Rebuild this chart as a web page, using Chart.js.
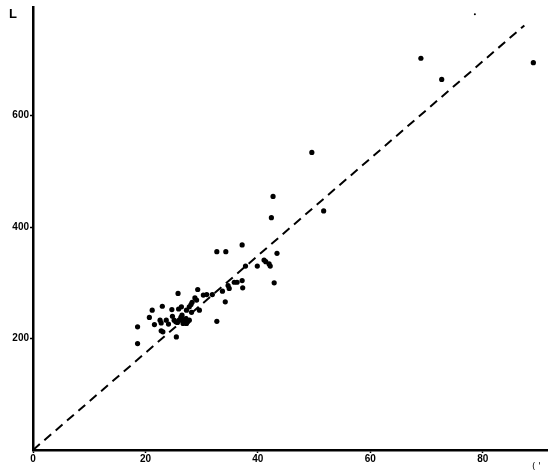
<!DOCTYPE html>
<html>
<head>
<meta charset="utf-8">
<script src="https://cdn.jsdelivr.net/npm/chart.js@4"></script>
<style>
body{margin:0;background:#fff;}
#wrap{width:550px;height:476px;}
</style>
</head>
<body>
<div id="wrap"><canvas id="c" width="550" height="476"></canvas></div>
<script>
// ===== data =====
let xVals = [69.0,72.7,89.0,78.6,49.6,51.7,42.7,42.4,37.2,32.7,34.3,43.4,37.8,39.9,
41.1,41.4,42.0,42.2,42.9,37.2,37.3,35.8,36.3,34.7,34.9,33.7,34.2,32.7,31.9,30.9,
29.3,30.3,28.8,29.1,28.3,28.1,29.6,27.3,27.8,28.2,25.8,25.9,26.4,
25.4,26.0,26.3,26.6,26.9,27.2,27.5,27.8,26.5,25.7,26.7,27.3,
24.7,24.8,25.1,24.1,23.7,23.0,22.6,22.8,22.8,23.1,25.5,21.6,21.2,20.7,18.6,18.6]
let yVals = [703,665,695,782,534,429,455,417,368,356,356,353,330,330,
341,338,334,330,300,304,291,301,301,295,290,285,266,231,279,279,
288,278,273,269,265,261,251,251,257,247,281,253,257,
230,233,238,234,230,236,230,233,242,229,227,227,
252,240,233,226,233,258,233,228,214,212,203,225,251,238,221,191]

let fitX = [0,87.4]
let fitY = [0,762]

let xTicks = [0,20,40,60,80]
let yTicks = [200,400,600]

let xMax = 91.5
let yMax = 795

// ===== build =====
let pts = xVals.map((x,i)=>({x:x,y:yVals[i]}))
let fit = fitX.map((x,i)=>({x:x,y:fitY[i]}))

let labelFont = {family:"'Liberation Sans', Arial, sans-serif", size:10, weight:"bold"}

let extraText = {
id:"extraText",
afterDraw(chart){
let ctx = chart.ctx
ctx.save()
ctx.fillStyle = "#000"
ctx.font = "bold 13px 'Liberation Sans', Arial, sans-serif"
ctx.textAlign = "left"
ctx.textBaseline = "middle"
ctx.fillText("L", 9, 14)
ctx.font = "9px 'DejaVu Sans', sans-serif"
ctx.fillText("( '", 532, 467)
ctx.restore()
}
}

new Chart(document.getElementById("c"),{
type:"scatter",
data:{
datasets:[{
data:pts,
backgroundColor:"#000",
borderColor:"#000",
// the top one is only a faint speck in the original
pointRadius:(c)=> c.dataIndex===3 ? 1 : 2.6,
pointHoverRadius:2.6,
pointBorderWidth:0
},{
type:"line",
data:fit,
borderColor:"#000",
borderWidth:2,
borderDash:[9,6],
pointRadius:0,
fill:false
}]
},
options:{
responsive:false,
animation:false,
layout:{padding:{top:6,right:0,left:0,bottom:0}},
plugins:{legend:{display:false},tooltip:{enabled:false}},
scales:{
x:{
type:"linear",
min:0,max:xMax,
afterFit(s){ s.height = 26 },
afterBuildTicks(s){ s.ticks = xTicks.map(v=>({value:v})) },
border:{display:true,color:"#000",width:2.5},
grid:{drawOnChartArea:false,drawTicks:true,tickLength:3,color:"#000",tickWidth:1.5},
ticks:{color:"#000",font:labelFont,padding:0,maxRotation:0}
},
y:{
type:"linear",
min:0,max:yMax,
afterFit(s){ s.width = 33 },
afterBuildTicks(s){ s.ticks = yTicks.map(v=>({value:v})) },
border:{display:true,color:"#000",width:2.5},
grid:{drawOnChartArea:false,drawTicks:true,tickLength:3,color:"#000",tickWidth:1.5},
ticks:{color:"#000",font:labelFont,padding:1}
}
}
},
plugins:[extraText]
})
</script>
</body>
</html>
